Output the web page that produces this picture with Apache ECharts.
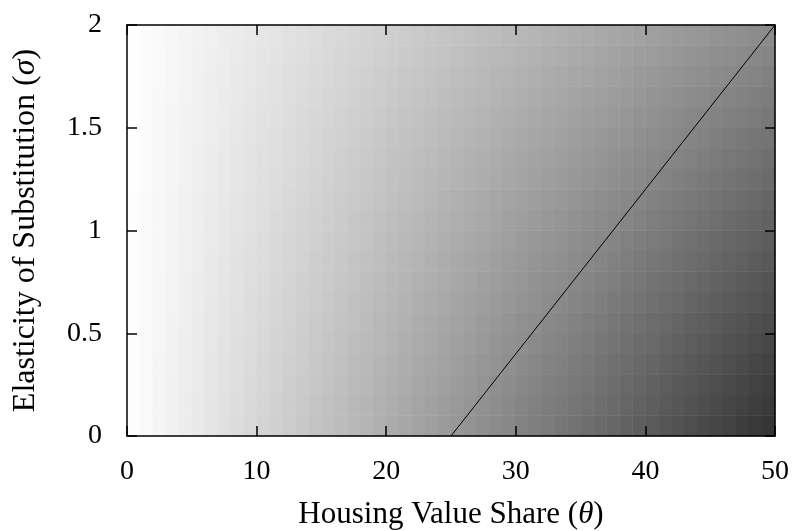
<!DOCTYPE html>
<html><head><meta charset="utf-8">
<script src="https://cdn.jsdelivr.net/npm/echarts@6/dist/echarts.min.js"></script>
<style>html,body{margin:0;padding:0;background:#fff}#c{width:797px;height:531px}</style>
</head><body><div id="c"></div>
<script>
// Heatmap columns: theta cell centres (1 unit wide); rows: sigma cell centres (0.1 tall)
const thetaCells = [0.5,1.5,2.5,3.5,4.5,5.5,6.5,7.5,8.5,9.5,10.5,11.5,12.5,13.5,14.5,15.5,16.5,17.5,18.5,19.5,20.5,21.5,22.5,23.5,24.5,25.5,26.5,27.5,28.5,29.5,30.5,31.5,32.5,33.5,34.5,35.5,36.5,37.5,38.5,39.5,40.5,41.5,42.5,43.5,44.5,45.5,46.5,47.5,48.5,49.5];
const sigmaCells = [0.05,0.15,0.25,0.35,0.45,0.55,0.65,0.75,0.85,0.95,1.05,1.15,1.25,1.35,1.45,1.55,1.65,1.75,1.85,1.95];
// Darkness (0 = white, 255 = black) read from the shading, one array per sigma row
const s005 = [2,6,10,14,18,22,26,31,35,39,43,47,51,55,59,63,67,71,75,79,84,88,92,96,100,104,108,112,116,120,124,128,132,137,141,145,149,153,157,161,165,169,173,177,181,185,189,194,198,202];
const s015 = [2,6,10,14,18,22,26,30,34,38,42,46,50,54,58,62,66,70,74,78,82,86,90,94,98,102,106,110,114,118,122,126,130,133,137,141,145,149,153,157,161,165,169,173,177,181,185,189,193,197];
const s025 = [2,6,10,14,18,21,25,29,33,37,41,45,49,53,56,60,64,68,72,76,80,84,88,92,95,99,103,107,111,115,119,123,127,130,134,138,142,146,150,154,158,162,166,169,173,177,181,185,189,193];
const s035 = [2,6,10,13,17,21,25,29,32,36,40,44,48,51,55,59,63,67,70,74,78,82,86,89,93,97,101,105,108,112,116,120,124,127,131,135,139,143,146,150,154,158,162,166,169,173,177,181,185,188];
const s045 = [2,6,9,13,17,20,24,28,32,35,39,43,46,50,54,58,61,65,69,72,76,80,84,87,91,95,98,102,106,110,113,117,121,124,128,132,136,139,143,147,150,154,158,162,165,169,173,176,180,184];
const s055 = [2,5,9,13,16,20,24,27,31,34,38,42,45,49,53,56,60,63,67,71,74,78,82,85,89,92,96,100,103,107,111,114,118,121,125,129,132,136,140,143,147,150,154,158,161,165,169,172,176,179];
const s065 = [2,5,9,12,16,19,23,27,30,34,37,41,44,48,51,55,58,62,65,69,72,76,80,83,87,90,94,97,101,104,108,111,115,118,122,125,129,133,136,140,143,147,150,154,157,161,164,168,171,175];
const s075 = [2,5,9,12,16,19,22,26,29,33,36,40,43,47,50,53,57,60,64,67,71,74,78,81,84,88,91,95,98,102,105,109,112,115,119,122,126,129,133,136,140,143,146,150,153,157,160,164,167,171];
const s085 = [2,5,8,12,15,18,22,25,29,32,35,39,42,45,49,52,55,59,62,65,69,72,75,79,82,86,89,92,96,99,102,106,109,112,116,119,122,126,129,133,136,139,143,146,149,153,156,159,163,166];
const s095 = [2,5,8,11,15,18,21,24,28,31,34,38,41,44,47,51,54,57,60,64,67,70,73,77,80,83,87,90,93,96,100,103,106,109,113,116,119,122,126,129,132,135,139,142,145,149,152,155,158,162];
const s105 = [2,5,8,11,14,17,21,24,27,30,33,37,40,43,46,49,52,56,59,62,65,68,71,75,78,81,84,87,90,94,97,100,103,106,110,113,116,119,122,125,129,132,135,138,141,144,148,151,154,157];
const s115 = [2,5,8,11,14,17,20,23,26,29,32,35,39,42,45,48,51,54,57,60,63,66,69,72,76,79,82,85,88,91,94,97,100,103,106,110,113,116,119,122,125,128,131,134,137,140,143,147,150,153];
const s125 = [1,4,7,10,13,16,19,22,25,28,31,34,37,40,43,46,49,52,55,58,61,64,67,70,73,76,79,82,85,88,91,94,97,100,103,106,109,112,115,118,121,124,127,130,133,136,139,142,145,148];
const s135 = [1,4,7,10,13,16,19,22,25,28,31,33,36,39,42,45,48,51,54,57,60,62,65,68,71,74,77,80,83,86,89,92,94,97,100,103,106,109,112,115,118,121,123,126,129,132,135,138,141,144];
const s145 = [1,4,7,10,13,15,18,21,24,27,30,32,35,38,41,44,46,49,52,55,58,61,63,66,69,72,75,77,80,83,86,89,91,94,97,100,103,106,108,111,114,117,120,122,125,128,131,134,137,139];
const s155 = [1,4,7,10,12,15,18,20,23,26,29,31,34,37,40,42,45,48,50,53,56,59,61,64,67,69,72,75,78,80,83,86,89,91,94,97,99,102,105,108,110,113,116,119,121,124,127,129,132,135];
const s165 = [1,4,7,9,12,14,17,20,22,25,28,30,33,36,38,41,43,46,49,51,54,57,59,62,65,67,70,72,75,78,80,83,86,88,91,94,96,99,101,104,107,109,112,115,117,120,123,125,128,130];
const s175 = [1,4,6,9,11,14,17,19,22,24,27,29,32,34,37,39,42,45,47,50,52,55,57,60,62,65,67,70,73,75,78,80,83,85,88,90,93,95,98,101,103,106,108,111,113,116,118,121,123,126];
const s185 = [1,4,6,9,11,14,16,18,21,23,26,28,31,33,36,38,41,43,45,48,50,53,55,58,60,63,65,68,70,72,75,77,80,82,85,87,90,92,95,97,99,102,104,107,109,112,114,117,119,122];
const s195 = [1,4,6,8,11,13,15,18,20,22,25,27,30,32,34,37,39,41,44,46,48,51,53,56,58,60,63,65,67,70,72,74,77,79,82,84,86,89,91,93,96,98,101,103,105,108,110,112,115,117];
const shadeRows = [s005,s015,s025,s035,s045,s055,s065,s075,s085,s095,s105,s115,s125,s135,s145,s155,s165,s175,s185,s195];
// Boundary line
const lineTheta = [25, 50];
const lineSigma = [0, 2];

const heat = [];
shadeRows.forEach((row, j) => row.forEach((v, i) => heat.push([i, j, v])));
const lineData = lineTheta.map((t, i) => [t, lineSigma[i]]);

const FONT = 'Liberation Serif';
const TS = 28;   // tick labels
const chart = echarts.init(document.getElementById('c'), null, {renderer: 'canvas'});
const axLine = {show: true, onZero: false, lineStyle: {color: '#000', width: 1.5}};
const tick = {show: true, inside: true, length: 10, lineStyle: {color: '#000', width: 1.5}};
function rich(fs) {
  return {a: {fontFamily: FONT, fontSize: fs, color: '#000'},
          i: {fontFamily: FONT, fontSize: fs, fontStyle: 'italic', color: '#000'}};
}
chart.setOption({
  animation: false,
  backgroundColor: '#fff',
  grid: {left: 127, top: 25, width: 648, height: 411, containLabel: false, outerBoundsMode: 'none'},
  visualMap: {show: false, min: 0, max: 255, dimension: 2, seriesIndex: 0,
    inRange: {color: ['#ffffff', '#000000']}},
  xAxis: [
    {type: 'category', data: thetaCells, show: false, boundaryGap: true},
    {type: 'value', position: 'bottom', min: 0, max: 50, interval: 10, z: 10,
     axisLine: axLine, axisTick: tick, splitLine: {show: false},
     axisLabel: {margin: 22, color: '#000', fontFamily: FONT, fontSize: TS},
     name: '{a|Housing Value Share (}{i|θ}{a|)}', nameLocation: 'middle', nameGap: 63,
     nameTextStyle: {rich: rich(31)}},
    {type: 'value', position: 'top', min: 0, max: 50, interval: 10, z: 10,
     axisLine: axLine, axisTick: tick, axisLabel: {show: false}, splitLine: {show: false}}
  ],
  yAxis: [
    {type: 'category', data: sigmaCells, show: false, boundaryGap: true},
    {type: 'value', position: 'left', min: 0, max: 2, interval: 0.5, z: 10,
     axisLine: axLine, axisTick: tick, splitLine: {show: false},
     axisLabel: {margin: 25, color: '#000', fontFamily: FONT, fontSize: TS},
     name: '{a|Elasticity of Substitution (}{i|σ}{a|)}', nameLocation: 'middle', nameGap: 85,
     nameRotate: 90, nameTextStyle: {rich: rich(32)}},
    {type: 'value', position: 'right', min: 0, max: 2, interval: 0.5, z: 10,
     axisLine: axLine, axisTick: tick, axisLabel: {show: false}, splitLine: {show: false}}
  ],
  series: [
    {type: 'heatmap', xAxisIndex: 0, yAxisIndex: 0, data: heat, itemStyle: {borderWidth: 0},
     emphasis: {disabled: true}},
    {type: 'line', xAxisIndex: 1, yAxisIndex: 1, data: lineData, symbol: 'none', z: 5,
     lineStyle: {color: '#000', width: 1}}
  ]
});
</script></body></html>
